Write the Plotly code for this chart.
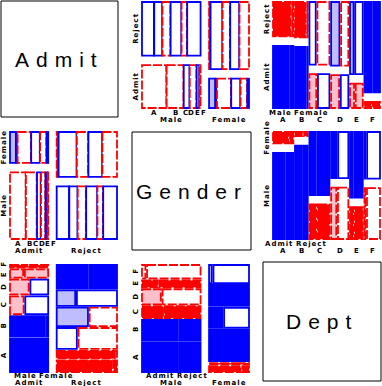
import numpy as np
import plotly.graph_objects as go

# ---- data: UC Berkeley admissions, counts by department ----
dept_levels = ["A", "B", "C", "D", "E", "F"]
gender_levels = ["Male", "Female"]
admit_levels = ["Admit", "Reject"]
admitted_male = [512, 353, 120, 138, 53, 22]
rejected_male = [313, 207, 205, 279, 138, 351]
admitted_female = [89, 17, 202, 131, 94, 24]
rejected_female = [19, 8, 391, 244, 299, 317]
var_names = ["Admit", "Gender", "Dept"]

# counts[admit, gender, dept]
counts = np.array([[admitted_male, admitted_female],
                   [rejected_male, rejected_female]], dtype=float)
levels = [admit_levels, gender_levels, dept_levels]

W, H = 382, 386
col_x = [(10, 117), (142, 249), (273, 380)]
row_y = [(2, 108), (132, 239), (265, 372)]
lab_off = [(4.5, 12.0), (4.5, 12.0), (3.5, 10.5)]
diag_box = [((1, 118), (1, 117)), ((132, 251), (132, 250)), ((263, 381), (262, 381))]
G1, G2, G3 = 8.5, 9.5, 1.7

BLUE, RED = "#0000ff", "#ff0000"
LAV, PINK = "#bebeff", "#ffc0cb"
SMALL = dict(family="DejaVu Sans", size=7, color="black", weight="bold")
BIG = dict(family="Liberation Sans", size=21, color="black")

fig = go.Figure()
shapes, annots = [], []


def shade(r):
    if r > 4:
        return BLUE, BLUE, "solid"
    if r > 2:
        return LAV, BLUE, "solid"
    if r >= 0:
        return "white", BLUE, "solid"
    if r >= -2:
        return "white", RED, "9px,2px"
    if r >= -4:
        return PINK, RED, "9px,2px"
    return RED, RED, "9px,2px"


def spread(centers, widths, pad, pin_first=True):
    c = list(centers)
    for _ in range(400):
        moved = False
        for i in range(len(c) - 1):
            need = (widths[i] + widths[i + 1]) / 2 + pad
            d = c[i + 1] - c[i]
            if d < need - 1e-6:
                delta = need - d
                if i == 0 and pin_first:
                    c[i + 1] += delta
                else:
                    c[i] -= delta / 2
                    c[i + 1] += delta / 2
                moved = True
        if not moved:
            break
    return c


def lab(x, y, s, font, angle=0, ls=None):
    if ls is None:
        ls = 0 if len(s) == 1 else 1
    annots.append(dict(x=x, y=y, xref="x", yref="y", showarrow=False,
                       text=f'<span style="letter-spacing:{ls}px">{s}</span>',
                       font=font, textangle=angle, xanchor="center", yanchor="middle",
                       borderpad=0))


def twidth(s):
    return 5.5 if len(s) == 1 else 5.6 * len(s)


for i in range(3):
    for j in range(3):
        if i == j:
            (bx0, bx1), (by0, by1) = diag_box[i]
            shapes.append(dict(type="rect", xref="x", yref="y", x0=bx0, x1=bx1, y0=by0, y1=by1,
                               line=dict(color="black", width=1), fillcolor="white"))
            lab((bx0 + bx1) / 2, (by0 + by1) / 2, var_names[i], BIG, ls=7)
            continue
        rv, cv = i, j
        tv = 3 - rv - cv
        tab = np.transpose(counts, (cv, rv, tv))  # [c, r, t]
        n_ct = tab.sum(1, keepdims=True)
        n_rt = tab.sum(0, keepdims=True)
        n_t = tab.sum((0, 1), keepdims=True)
        expct = n_ct * n_rt / n_t
        resid = (tab - expct) / np.sqrt(expct)
        nc, nr, nt = tab.shape
        x0, x1 = col_x[j]
        ytop, ybot = row_y[i]
        w, h = x1 - x0, ybot - ytop
        N = tab.sum()
        g1 = G1 / (nc - 1)
        g2 = G2 / (nr - 1)
        g3 = G3 / (nt - 1)
        cx = x0
        c_centers, r_centers, t_centers = [], [], []
        for c in range(nc):
            cw = (w - G1) * tab[c].sum() / N
            c_centers.append(cx + cw / 2)
            cy = ybot
            for r in range(nr):
                rh = (h - G2) * tab[c, r].sum() / tab[c].sum()
                if c == 0:
                    r_centers.append(cy - rh / 2)
                tx = cx
                for t in range(nt):
                    tw = (cw - G3) * tab[c, r, t] / tab[c, r].sum()
                    if c == 0 and r == 0:
                        t_centers.append(tx + tw / 2)
                    fill, lc, dash = shade(resid[c, r, t])
                    shapes.append(dict(type="rect", xref="x", yref="y",
                                       x0=tx, x1=tx + tw, y0=cy - rh, y1=cy,
                                       fillcolor=fill, line=dict(color=lc, width=1.8, dash=dash)))
                    tx += tw + g3
                cy -= rh + g2
            cx += cw + g1
        off3, off1 = lab_off[i]
        # column (level 1) labels
        for c in range(nc):
            lab(c_centers[c], ybot + off1, levels[cv][c], SMALL)
        # third-variable labels under first block
        tl = levels[tv]
        tws = [twidth(s) for s in tl]
        pad = 0.7 if len(tl[0]) == 1 else 2
        tc = spread(t_centers, tws, pad)
        for t in range(nt):
            lab(tc[t], ybot + off3, tl[t], SMALL)
        # row labels (rotated)
        rl = levels[rv]
        up = [-v for v in r_centers]
        rws = [twidth(s) for s in rl]
        rpad = 5 if len(rl[0]) == 1 else 2
        up = spread(up, rws, rpad)
        for r in range(nr):
            lab(x0 - 6, -up[r], rl[r], SMALL, angle=-90)

fig.update_layout(
    width=W, height=H, margin=dict(l=0, r=0, t=0, b=0),
    paper_bgcolor="white", plot_bgcolor="white",
    xaxis=dict(range=[0, W], visible=False, fixedrange=True, domain=[0, 1]),
    yaxis=dict(range=[H, 0], visible=False, fixedrange=True, domain=[0, 1]),
    shapes=shapes, annotations=annots, showlegend=False,
)
fig.write_html("out.html", config={"displayModeBar": False},
               post_script="document.body.style.margin='0';document.body.style.overflow='hidden';")
